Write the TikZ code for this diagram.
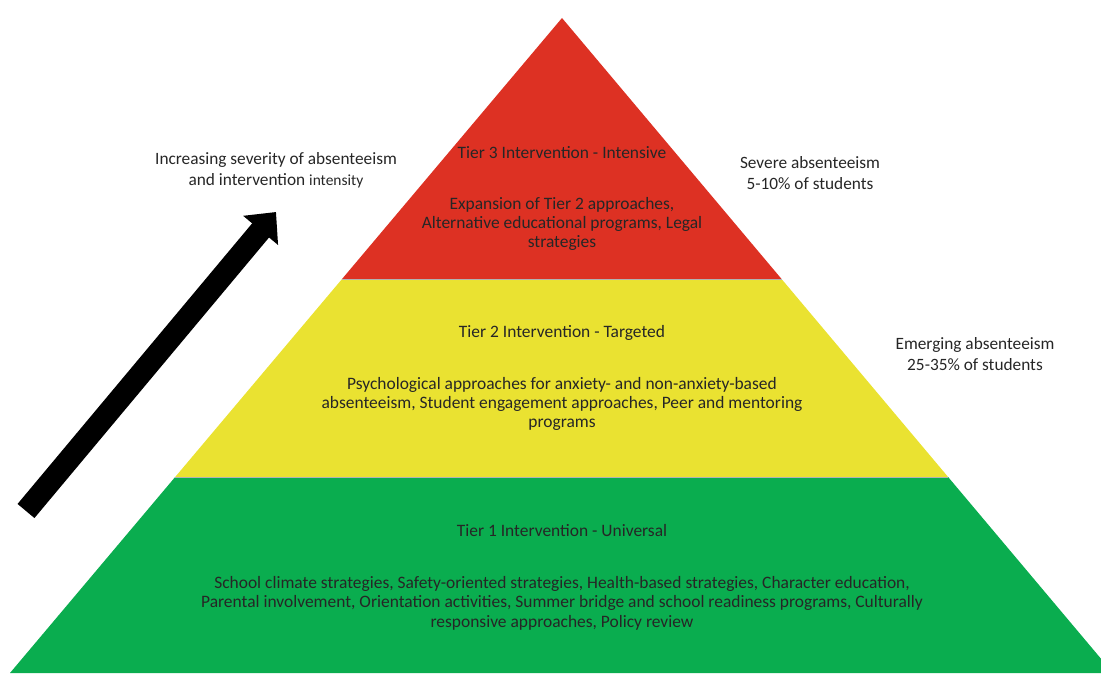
\documentclass[tikz,border=0pt]{standalone}
\usepackage{fontspec}
\setmainfont{Carlito}
\usetikzlibrary{arrows.meta,calc}
\definecolor{tierred}{RGB}{221,49,35}
\definecolor{tieryellow}{RGB}{234,226,49}
\definecolor{tiergreen}{RGB}{10,173,79}
\tikzset{
  tiertext/.style={align=center, font=\fontsize{12.4}{13.8}\selectfont, text=black!85},
  sidetext/.style={align=center, font=\fontsize{12.3}{14.6}\selectfont, text=black!85},
}

\begin{document}
\begin{tikzpicture}[x=0.025cm,y=0.025cm]
  \useasboundingbox (0,0) rectangle (1101,673);

  % pyramid corners
  \coordinate (L) at (10,0);
  \coordinate (R) at (1113,0);
  \coordinate (A) at (562,655);
  \coordinate (L1) at ($(L)!0.2992!(A)$);
  \coordinate (R1) at ($(R)!0.2992!(A)$);
  \coordinate (L2) at ($(L)!0.6015!(A)$);
  \coordinate (R2) at ($(R)!0.6015!(A)$);

  \fill[tiergreen] (L) -- (R) -- (R1) -- (L1) -- cycle;
  \fill[tieryellow] (L1) -- (R1) -- (R2) -- (L2) -- cycle;
  \fill[tierred] (L2) -- (R2) -- (A) -- cycle;
  \draw[black!30, thin] (L1) -- (R1) (L2) -- (R2);

  % tier texts
  \node[tiertext] (t3title) at (562,520) {Tier 3 Intervention - Intensive};
  \node[tiertext] (t3body) at (562,449) {Expansion of Tier 2 approaches,\\Alternative educational programs, Legal\\strategies};
  \node[tiertext] (t2title) at (562,340) {Tier 2 Intervention - Targeted};
  \node[tiertext] (t2body) at (562,269) {Psychological approaches for anxiety- and non-anxiety-based\\absenteeism, Student engagement approaches, Peer and mentoring\\programs};
  \node[tiertext] (t1title) at (562,142) {Tier 1 Intervention - Universal};
  \node[tiertext] (t1body) at (562,70) {School climate strategies, Safety-oriented strategies, Health-based strategies, Character education,\\Parental involvement, Orientation activities, Summer bridge and school readiness programs, Culturally\\responsive approaches, Policy review};

  % side labels
  \node[sidetext] (severe) at (810,500) {Severe absenteeism\\5-10\% of students};
  \node[sidetext] (emerging) at (975,319) {Emerging absenteeism\\25-35\% of students};
  \node[sidetext] (increasing) at (276,503) {Increasing severity of absenteeism\\and intervention {\fontsize{11}{12}\selectfont intensity}};

  % severity arrow
  \coordinate (arrowtail) at (26,162);
  \coordinate (arrowhead) at (276,461);
  \draw[line width=0.55cm, -{Triangle[length=0.6cm,width=1.1cm]}] (arrowtail) -- (arrowhead);
\end{tikzpicture}
\end{document}
